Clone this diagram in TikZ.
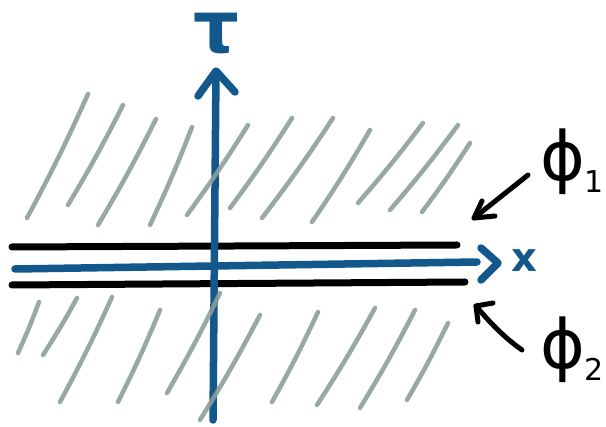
\documentclass[tikz,border=0pt]{standalone}
\usepackage{fontspec}
\newfontfamily\hand{DejaVu Sans}
\usetikzlibrary{arrows.meta}
\definecolor{axisblue}{RGB}{18,88,140}
\definecolor{hatchgray}{RGB}{140,158,155}
\begin{document}
\begin{tikzpicture}[x=1pt,y=-1pt,
  hatch/.style={hatchgray, line width=4.5pt, line cap=round, opacity=0.9},
  phaseline/.style={black, line width=7pt, line cap=round},
  axisline/.style={axisblue, line width=7.5pt, line cap=round, line join=round},
  pointer/.style={black, line width=5pt, line cap=round, line join=round},
  lbl/.style={inner sep=0pt, font=\hand}]
\useasboundingbox (0,0) rectangle (606,427);
% axes
\coordinate (tauBase) at (213,420);
\coordinate (tauTip) at (216,72);
\coordinate (xBase) at (15,269);
\coordinate (xEnd) at (477,262);
\coordinate (xTip) at (498,263);
% black field lines
\coordinate (phiOneL) at (12,247);
\coordinate (phiOneR) at (457,245);
\coordinate (phiTwoL) at (12,285);
\coordinate (phiTwoR) at (465,282);
\draw[phaseline] (phiOneL) -- (phiOneR);
\draw[phaseline] (phiTwoL) -- (phiTwoR);
\draw[axisline] (xBase) -- (xEnd);
\draw[axisline] ([shift={(-17,-15)}]xTip) -- (xTip) -- ([shift={(-17,17)}]xTip);
\draw[axisline] (tauBase) -- (tauTip);
\draw[axisline] ([shift={(-18,24)}]tauTip) -- ([shift={(0,-1)}]tauTip) -- ([shift={(19,20)}]tauTip);
% hatching above
\foreach \a/\b/\c/\d in {88/94/27/218, 123/105/68/205, 156/119/98/225, 192/127/150/225,
  248/125/187/215, 292/118/230/208, 333/118/262/218, 370/130/312/222,
  423/123/358/203, 458/125/390/210, 470/143/422/212}
  \draw[hatch] (\a,\b) to[bend left=2] (\c,\d);
% hatching below
\foreach \a/\b/\c/\d in {39/302/18/353, 77/298/43/355, 112/297/60/402, 160/310/118/402,
  220/293/167/393, 260/315/200/420, 318/312/272/402, 375/308/317/405,
  415/310/360/408, 448/323/407/400}
  \draw[hatch] (\a,\b) to[bend left=2] (\c,\d);
% labels
\node[lbl, text=axisblue, font=\hand\bfseries\fontsize{72}{72}\selectfont] (tau) at (216,34) {τ};
\node[lbl, text=axisblue, font=\hand\bfseries\fontsize{40}{40}\selectfont] (xlab) at (524,261) {x};
\node[lbl, font=\hand\fontsize{68}{68}\selectfont] (phiOne) at (572,162) {ϕ\raisebox{-0.18em}{\fontsize{30}{30}\selectfont 1}};
\node[lbl, font=\hand\fontsize{68}{68}\selectfont] (phiTwo) at (572,350) {ϕ\raisebox{-0.18em}{\fontsize{30}{30}\selectfont 2}};
% pointers
\coordinate (pOneS) at (528,175);
\coordinate (pOneT) at (474,218);
\draw[pointer] (pOneS) -- (pOneT);
\draw[pointer] ([shift={(8,-17)}]pOneT) -- (pOneT) -- ([shift={(21,-2)}]pOneT);
\coordinate (pTwoS) at (522,350);
\coordinate (pTwoT) at (476,306);
\draw[pointer] (pTwoS) .. controls (502,336) and (486,318) .. (pTwoT);
\draw[pointer] ([shift={(2,16)}]pTwoT) -- (pTwoT) -- ([shift={(17,-3)}]pTwoT);
\end{tikzpicture}
\end{document}
